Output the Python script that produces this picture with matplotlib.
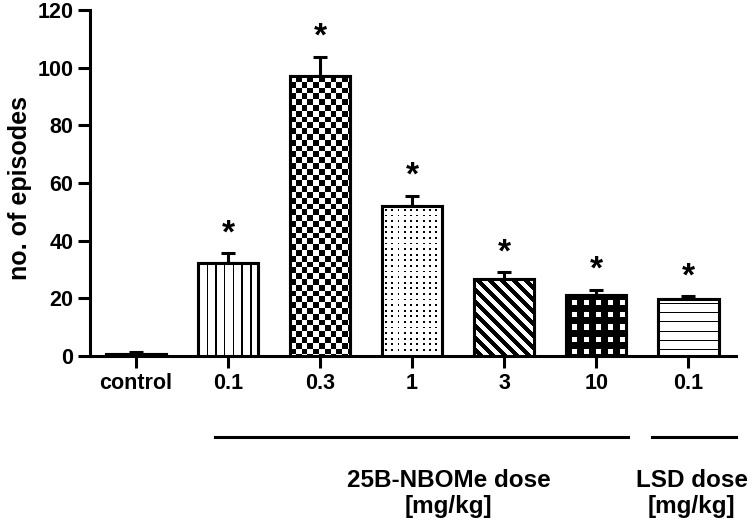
import numpy as np
import matplotlib
matplotlib.use('Agg')
import matplotlib.pyplot as plt
import matplotlib.transforms as mtransforms

plt.rcParams['font.family'] = ['Liberation Sans', 'DejaVu Sans']
plt.rcParams['font.weight'] = 'bold'

# data
doses = ['control', '0.1', '0.3', '1', '3', '10', '0.1']
means = [0.8, 32.3, 97.1, 52.0, 26.7, 21.2, 19.8]
sems = [0.5, 3.4, 6.6, 3.5, 2.4, 1.7, 1.0]
significant = [False, True, True, True, True, True, True]
fills = ['none', 'vlines', 'checker', 'dots', 'diag', 'grid', 'hlines']


def pattern(kind, W, H):
    yy, xx = np.mgrid[0:H, 0:W] + 0.5
    if kind == 'vlines':
        return ((xx % 8.7) < 1.4).astype(float)
    if kind == 'checker':
        return (((xx // 5.8) + (yy // 5.8)) % 2).astype(float)
    if kind == 'dots':
        return (((xx - 3) % 6.3 < 1.8) & ((yy - 3) % 5.6 < 1.8)).astype(float)
    if kind == 'diag':
        return (((xx - yy) % 12.0) < 6.0).astype(float)
    if kind == 'grid':
        return (~(((xx - 6) % 12.0 < 5.5) & ((yy - 6) % 12.0 < 5.5))).astype(float)
    if kind == 'hlines':
        return (((yy - 5) % 9.0) < 1.4).astype(float)
    return np.zeros((H, W))


fig = plt.figure(figsize=(7.52, 5.24), dpi=100)
ax = fig.add_axes([90 / 752, 1 - 356 / 524, 646 / 752, 346 / 524])

x = np.arange(len(doses))
ax.set_xlim(-0.5, 6.52)
ax.set_ylim(0, 120)

lw = 2.2
ax.errorbar(x, means, yerr=[np.zeros(len(sems)), sems], fmt='none',
            ecolor='black', elinewidth=lw, capsize=5, capthick=lw, zorder=2)
bars = ax.bar(x, means, width=0.66, color='white', edgecolor='black',
              linewidth=lw, zorder=3)

# pixel-sized fill patterns, clipped to each bar
p0 = ax.transData.transform((0, 0))
p1 = ax.transData.transform((1, 1))
sx, sy = p1[0] - p0[0], p1[1] - p0[1]
for patch, kind in zip(bars, fills):
    if kind == 'none':
        continue
    bx, bw, bh = patch.get_x(), patch.get_width(), patch.get_height()
    W, H = int(round(bw * sx)), int(round(bh * sy))
    img = ax.imshow(pattern(kind, W, H), cmap='gray_r', vmin=0, vmax=1,
                    extent=(bx, bx + bw, 0, bh), interpolation='nearest',
                    aspect='auto', zorder=3.5)
    img.set_clip_path(patch)
ax.bar(x, means, width=0.66, fill=False, edgecolor='black', linewidth=lw, zorder=4)

ax.set_xlim(-0.5, 6.52)
ax.set_ylim(0, 120)

for xi, m, s, sig in zip(x, means, sems, significant):
    if sig:
        ax.annotate('*', xy=(xi, m + s), xytext=(0, 14), textcoords='offset points',
                    ha='center', va='center', fontsize=24, fontweight='bold')

ax.set_yticks(np.arange(0, 121, 20))
ax.set_xticks(x)
ax.set_xticklabels(doses)
for side in ['top', 'right']:
    ax.spines[side].set_visible(False)
for side in ['left', 'bottom']:
    ax.spines[side].set_linewidth(lw)
ax.tick_params(axis='both', width=lw, length=8.5, labelsize=15.5, pad=3.6)
ax.set_ylabel('no. of episodes', fontsize=18, fontweight='bold')
ax.yaxis.set_label_coords(-0.0898, 0.486)

# group lines and labels under the axis
trans = mtransforms.blended_transform_factory(ax.transData, ax.transAxes)
ax.plot([0.86, 5.35], [-0.234, -0.234], color='black', lw=lw, transform=trans, clip_on=False)
ax.plot([5.61, 6.52], [-0.234, -0.234], color='black', lw=lw, transform=trans, clip_on=False)
ax.text(3.40, (356 - 487) / 346, '25B-NBOMe dose', transform=trans, ha='center',
        va='baseline', fontsize=17.5, fontweight='bold')
ax.text(3.40, (356 - 513) / 346, '[mg/kg]', transform=trans, ha='center',
        va='baseline', fontsize=17.5, fontweight='bold')
ax.text(6.04, (356 - 487) / 346, 'LSD dose', transform=trans, ha='center',
        va='baseline', fontsize=17.5, fontweight='bold')
ax.text(6.04, (356 - 513) / 346, '[mg/kg]', transform=trans, ha='center',
        va='baseline', fontsize=17.5, fontweight='bold')

fig.savefig('out.png', dpi=100)
